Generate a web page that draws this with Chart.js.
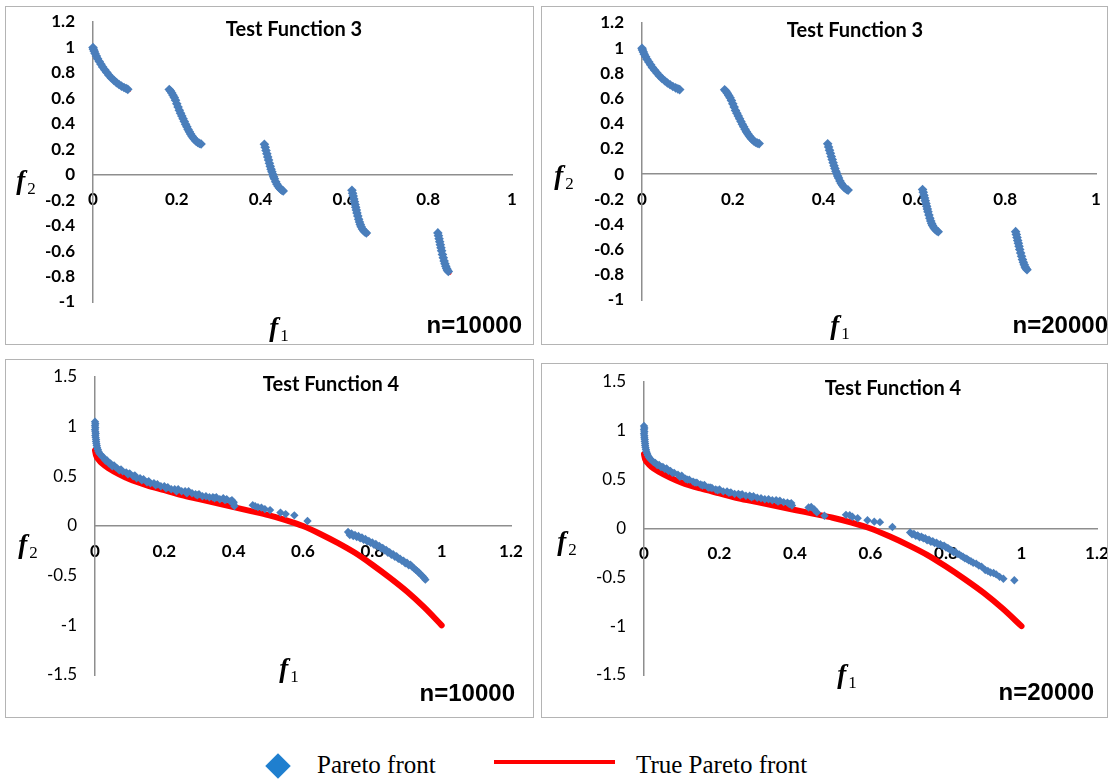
<!DOCTYPE html>
<html>
<head>
<meta charset="utf-8">
<script src="https://cdn.jsdelivr.net/npm/chart.js@4.4.1/dist/chart.umd.min.js"></script>
<style>
    body { margin: 0; background: #fff; }
    #page { position: relative; width: 1110px; height: 780px; overflow: hidden; background: #fff; }
    .panel { position: absolute; box-sizing: border-box; border: 1px solid #b4b4b4; }
    .panel canvas { position: absolute; left: 0; top: 0; }
    #p1 { left: 5px; top: 6px; width: 529px; height: 339px; }
    #p2 { left: 541px; top: 6px; width: 567px; height: 339px; }
    #p3 { left: 5px; top: 359px; width: 529px; height: 359px; }
    #p4 { left: 541px; top: 363px; width: 567px; height: 355px; }
    .txt { position: absolute; white-space: nowrap; transform: translate(-50%, -50%); color: #000; }
    .title { font: bold 20px Lato, sans-serif; }
    .fx { font: italic bold 27px "Liberation Serif", serif; }
    .fx sub { font-style: normal; font-weight: normal; font-size: 17px; vertical-align: -5px; margin-left: 2px; }
    .nlab { font: bold 24px "Liberation Sans", Arial, sans-serif; transform: translate(-100%, -50%); }
    .leg { font: 25px "Liberation Serif", "Times New Roman", serif; transform: translate(0, -50%); }
    #legDiamond { position: absolute; left: 269px; top: 757px; width: 18px; height: 18px; background: #1f7fcf; transform: rotate(45deg); }
    #legLine { position: absolute; left: 494px; top: 760px; width: 121px; height: 4px; background: #ff0000; }
</style>
</head>
<body>
<div id="page">
    <div class="panel" id="p1"><canvas id="c1" width="527" height="337"></canvas></div>
    <div class="panel" id="p2"><canvas id="c2" width="565" height="337"></canvas></div>
    <div class="panel" id="p3"><canvas id="c3" width="527" height="357"></canvas></div>
    <div class="panel" id="p4"><canvas id="c4" width="565" height="353"></canvas></div>

    <div class="txt title" style="left:294px; top:28px;">Test Function 3</div>
    <div class="txt title" style="left:855px; top:29px;">Test Function 3</div>
    <div class="txt title" style="left:331px; top:383px;">Test Function 4</div>
    <div class="txt title" style="left:893px; top:387px;">Test Function 4</div>

    <div class="txt fx" style="left:26px; top:182px;">f<sub>2</sub></div>
    <div class="txt fx" style="left:279px; top:329px;">f<sub>1</sub></div>
    <div class="txt fx" style="left:564px; top:177px;">f<sub>2</sub></div>
    <div class="txt fx" style="left:840px; top:327px;">f<sub>1</sub></div>
    <div class="txt fx" style="left:28px; top:546px;">f<sub>2</sub></div>
    <div class="txt fx" style="left:289px; top:670px;">f<sub>1</sub></div>
    <div class="txt fx" style="left:567px; top:543px;">f<sub>2</sub></div>
    <div class="txt fx" style="left:847px; top:676px;">f<sub>1</sub></div>

    <div class="txt nlab" style="left:522px; top:325px;">n=10000</div>
    <div class="txt nlab" style="left:1108px; top:325px;">n=20000</div>
    <div class="txt nlab" style="left:515px; top:693px;">n=10000</div>
    <div class="txt nlab" style="left:1094px; top:692px;">n=20000</div>

    <div id="legDiamond"></div>
    <div class="txt leg" style="left:317px; top:765px;">Pareto front</div>
    <div id="legLine"></div>
    <div class="txt leg" style="left:636px; top:765px;">True Pareto front</div>
</div>

<script>
// Test Function 3 - obtained front (same shape in both runs)
const tf3Front = [
    [0, 1.0], [0.001, 0.985], [0.003, 0.97], [0.005, 0.952], [0.008, 0.932], [0.011, 0.912], [0.015, 0.89],
    [0.019, 0.868], [0.023, 0.847], [0.028, 0.824], [0.033, 0.803], [0.038, 0.781], [0.044, 0.76], [0.05, 0.741],
    [0.056, 0.724], [0.062, 0.709], [0.068, 0.696], [0.074, 0.685], [0.079, 0.677], [0.083, 0.671],
    [0.182, 0.67], [0.185, 0.657], [0.188, 0.642], [0.191, 0.625], [0.194, 0.606], [0.197, 0.585], [0.2, 0.558],
    [0.203, 0.532], [0.206, 0.506], [0.209, 0.484], [0.212, 0.462], [0.215, 0.44], [0.218, 0.418], [0.221, 0.396],
    [0.224, 0.376], [0.227, 0.356], [0.23, 0.337], [0.233, 0.32], [0.236, 0.304], [0.239, 0.29], [0.242, 0.278],
    [0.246, 0.264], [0.25, 0.253], [0.254, 0.246], [0.258, 0.242],
    [0.409, 0.24], [0.411, 0.215], [0.413, 0.19], [0.415, 0.165], [0.417, 0.14], [0.419, 0.115], [0.421, 0.09],
    [0.423, 0.066], [0.425, 0.044], [0.427, 0.023], [0.429, 0.004], [0.431, -0.015], [0.433, -0.032], [0.436, -0.055],
    [0.439, -0.074], [0.442, -0.09], [0.445, -0.104], [0.448, -0.114], [0.451, -0.122], [0.454, -0.127],
    [0.618, -0.122], [0.6195, -0.145], [0.621, -0.168], [0.6225, -0.19], [0.624, -0.212], [0.6255, -0.234],
    [0.627, -0.256], [0.6285, -0.278], [0.63, -0.3], [0.632, -0.325], [0.634, -0.35], [0.636, -0.372],
    [0.638, -0.392], [0.64, -0.408], [0.643, -0.426], [0.646, -0.44], [0.649, -0.45], [0.6525, -0.458],
    [0.823, -0.457], [0.8245, -0.48], [0.826, -0.503], [0.8275, -0.527], [0.829, -0.55], [0.8305, -0.574],
    [0.832, -0.598], [0.834, -0.626], [0.836, -0.653], [0.838, -0.678], [0.84, -0.7], [0.842, -0.72],
    [0.844, -0.737], [0.846, -0.75], [0.848, -0.76]
];
// bits of the true front peeking out at segment ends (n=10000 panel)
const tf3TrueEnds10k = [[0.085, 0.668], [0.654, -0.461], [0.85, -0.768]];

// Test Function 4
const tf4Front10k = [
    [0, 1.05], [0.001, 1.03], [0, 1.01], [0.001, 0.99], [0, 0.97], [0.001, 0.95], [0.002, 0.93], [0.001, 0.91],
    [0.002, 0.89], [0.003, 0.87], [0.003, 0.85], [0.004, 0.83], [0.005, 0.81], [0.006, 0.79], [0.008, 0.77],
    [0.01, 0.75], [0.013, 0.73], [0.016, 0.72], [0.02, 0.7],
    [0.025, 0.69], [0.03, 0.66], [0.035, 0.66], [0.04, 0.63], [0.045, 0.63], [0.05, 0.6], [0.055, 0.61],
    [0.06, 0.59], [0.065, 0.58], [0.07, 0.56], [0.075, 0.57], [0.08, 0.55], [0.09, 0.54], [0.095, 0.52],
    [0.1, 0.53], [0.11, 0.5], [0.115, 0.51], [0.12, 0.48], [0.13, 0.48], [0.135, 0.46], [0.14, 0.47],
    [0.15, 0.44], [0.155, 0.45], [0.16, 0.43], [0.17, 0.43], [0.175, 0.41], [0.18, 0.42], [0.19, 0.4],
    [0.2, 0.4], [0.205, 0.38], [0.21, 0.39], [0.22, 0.37], [0.23, 0.37], [0.235, 0.35], [0.24, 0.37],
    [0.25, 0.35], [0.26, 0.35], [0.265, 0.33], [0.27, 0.35], [0.28, 0.33], [0.29, 0.32], [0.295, 0.31],
    [0.3, 0.32], [0.31, 0.3], [0.32, 0.3], [0.33, 0.29], [0.34, 0.29], [0.345, 0.28], [0.35, 0.29],
    [0.36, 0.27], [0.37, 0.28], [0.375, 0.26], [0.38, 0.27], [0.39, 0.25], [0.395, 0.26], [0.4, 0.24],
    [0.4, 0.22], [0.402, 0.2],
    [0.455, 0.21], [0.462, 0.2], [0.47, 0.19], [0.48, 0.185], [0.49, 0.17], [0.505, 0.16], [0.535, 0.135],
    [0.55, 0.12], [0.575, 0.107], [0.613, 0.05],
    [0.73, -0.06], [0.735, -0.09], [0.74, -0.075], [0.745, -0.1], [0.75, -0.09], [0.755, -0.11], [0.76, -0.1],
    [0.765, -0.125], [0.77, -0.115], [0.775, -0.14], [0.78, -0.13], [0.785, -0.155], [0.79, -0.15],
    [0.795, -0.17], [0.8, -0.165], [0.805, -0.19], [0.81, -0.18], [0.815, -0.205], [0.82, -0.2],
    [0.825, -0.225], [0.83, -0.22], [0.835, -0.245], [0.84, -0.24], [0.845, -0.27], [0.85, -0.265],
    [0.855, -0.29], [0.86, -0.285], [0.865, -0.31], [0.87, -0.305], [0.875, -0.33], [0.88, -0.33],
    [0.885, -0.35], [0.89, -0.35], [0.895, -0.375], [0.9, -0.37], [0.905, -0.395], [0.91, -0.39],
    [0.915, -0.41], [0.92, -0.425], [0.925, -0.44], [0.93, -0.455], [0.935, -0.47], [0.94, -0.49],
    [0.945, -0.505], [0.95, -0.525], [0.953, -0.54]
];
const tf4Front20k = [
    [0, 1.05], [0.001, 1.03], [0, 1.01], [0.001, 0.99], [0, 0.97], [0.001, 0.95], [0.001, 0.93], [0.002, 0.91],
    [0.002, 0.89], [0.003, 0.87], [0.003, 0.85], [0.004, 0.83], [0.005, 0.81], [0.006, 0.79], [0.008, 0.77],
    [0.01, 0.75], [0.013, 0.73], [0.016, 0.715], [0.02, 0.7],
    [0.025, 0.68], [0.03, 0.67], [0.035, 0.65], [0.04, 0.65], [0.045, 0.63], [0.05, 0.63], [0.055, 0.61],
    [0.06, 0.615], [0.065, 0.59], [0.07, 0.59], [0.075, 0.57], [0.08, 0.57], [0.09, 0.55], [0.095, 0.53],
    [0.1, 0.54], [0.11, 0.51], [0.115, 0.5], [0.12, 0.5], [0.13, 0.48], [0.135, 0.47], [0.14, 0.47],
    [0.15, 0.45], [0.155, 0.44], [0.16, 0.445], [0.17, 0.42], [0.175, 0.42], [0.18, 0.415], [0.19, 0.4],
    [0.195, 0.39], [0.2, 0.4], [0.21, 0.38], [0.22, 0.38], [0.225, 0.365], [0.23, 0.37], [0.24, 0.355],
    [0.25, 0.355], [0.255, 0.34], [0.26, 0.35], [0.27, 0.335], [0.28, 0.335], [0.285, 0.32], [0.29, 0.33],
    [0.3, 0.315], [0.31, 0.31], [0.32, 0.3], [0.33, 0.3], [0.34, 0.29], [0.35, 0.29], [0.355, 0.275],
    [0.36, 0.285], [0.37, 0.27], [0.38, 0.265], [0.385, 0.25], [0.39, 0.26], [0.392, 0.235],
    [0.436, 0.215], [0.443, 0.22], [0.451, 0.195], [0.458, 0.165], [0.478, 0.13], [0.535, 0.14],
    [0.545, 0.135], [0.552, 0.12], [0.566, 0.105], [0.592, 0.085], [0.61, 0.07], [0.625, 0.065], [0.658, 0.015],
    [0.705, -0.04], [0.71, -0.06], [0.715, -0.055], [0.72, -0.075], [0.725, -0.07], [0.73, -0.09],
    [0.735, -0.085], [0.74, -0.1], [0.745, -0.1], [0.75, -0.12], [0.755, -0.115], [0.76, -0.135],
    [0.765, -0.13], [0.77, -0.15], [0.775, -0.145], [0.78, -0.165], [0.785, -0.16], [0.79, -0.18],
    [0.795, -0.175], [0.8, -0.195], [0.805, -0.2], [0.81, -0.215], [0.815, -0.225], [0.82, -0.24],
    [0.825, -0.24], [0.83, -0.26], [0.835, -0.265], [0.84, -0.28], [0.845, -0.29], [0.85, -0.305],
    [0.855, -0.31], [0.86, -0.325], [0.866, -0.335], [0.872, -0.35], [0.88, -0.36], [0.887, -0.38],
    [0.894, -0.39], [0.904, -0.425], [0.911, -0.435], [0.918, -0.45], [0.926, -0.455], [0.933, -0.47],
    [0.942, -0.495], [0.952, -0.515], [0.981, -0.53]
];
const tf4TrueFront = [
    [0, 0.76], [0.003, 0.71], [0.01, 0.67], [0.02, 0.63], [0.04, 0.58], [0.07, 0.52], [0.1, 0.47],
    [0.15, 0.41], [0.2, 0.36], [0.25, 0.31], [0.3, 0.27], [0.35, 0.23], [0.4, 0.19], [0.45, 0.15],
    [0.5, 0.11], [0.55, 0.06], [0.6, 0.0], [0.65, -0.08], [0.7, -0.17], [0.75, -0.27], [0.8, -0.39],
    [0.85, -0.52], [0.9, -0.66], [0.95, -0.82], [1.0, -1.0]
];

// tick values
const tf3XTicks = [0, 0.2, 0.4, 0.6, 0.8, 1];
const tf3YTicks = [-1, -0.8, -0.6, -0.4, -0.2, 0, 0.2, 0.4, 0.6, 0.8, 1, 1.2];
const tf4XTicks = [0, 0.2, 0.4, 0.6, 0.8, 1, 1.2];
const tf4YTicks = [-1.5, -1, -0.5, 0, 0.5, 1, 1.5];

const BLUE = '#4a7ebb';
const RED = '#ff0000';
const AXIS = '#8e8e8e';

const fmt = v => String(+Number(v).toFixed(1));

function buildPanel(canvasId, p) {
    const datasets = [{
        label: 'Pareto front',
        data: p.front,
        pointStyle: 'rectRot',
        pointRadius: p.r,
        backgroundColor: BLUE,
        borderWidth: 0,
        clip: false
    }];
    if (p.trueLine) {
        datasets.push({
            label: 'True Pareto front',
            data: p.trueLine,
            showLine: true,
            borderColor: RED,
            borderWidth: 6,
            borderCapStyle: 'round',
            pointRadius: 0,
            cubicInterpolationMode: 'monotone',
            clip: false
        });
    }
    if (p.trueDots) {
        datasets.push({
            label: 'True Pareto front',
            data: p.trueDots,
            pointRadius: 2.5,
            backgroundColor: RED,
            borderWidth: 0,
            clip: false
        });
    }

    return new Chart(document.getElementById(canvasId), {
        type: 'scatter',
        data: { datasets },
        options: {
            responsive: false,
            animation: false,
            devicePixelRatio: 1,
            layout: { padding: p.pad },
            plugins: { legend: { display: false }, tooltip: { enabled: false } },
            scales: {
                x: {
                    type: 'linear',
                    min: 0,
                    max: p.xTicks[p.xTicks.length - 1],
                    position: { y: 0 },
                    afterBuildTicks: s => { s.ticks = p.xTicks.map(v => ({ value: v })); },
                    // labels may hang over the edges, don't shrink the plot for them
                    afterFit: s => { s.paddingLeft = 0; s.paddingRight = 0; },
                    grid: { display: false, drawTicks: false },
                    border: { color: AXIS, width: 1.5 },
                    ticks: {
                        padding: 15,
                        autoSkip: false,
                        maxRotation: 0,
                        color: '#000',
                        font: { family: 'Lato', weight: 'bold', size: 17 },
                        callback: fmt
                    }
                },
                y: {
                    type: 'linear',
                    min: p.yTicks[0],
                    max: p.yTicks[p.yTicks.length - 1],
                    position: 'left',
                    afterBuildTicks: s => { s.ticks = p.yTicks.map(v => ({ value: v })); },
                    afterFit: s => { s.width = 50; s.paddingTop = 0; s.paddingBottom = 0; },
                    grid: { display: false, drawTicks: false },
                    border: { color: AXIS, width: 1.5 },
                    ticks: {
                        padding: 18,
                        autoSkip: false,
                        color: '#000',
                        font: { family: 'Lato', weight: p.yBold ? 'bold' : 'normal', size: 17 },
                        callback: fmt
                    }
                }
            }
        }
    });
}

document.addEventListener('DOMContentLoaded', () => {
    buildPanel('c1', {
        front: tf3Front, trueDots: tf3TrueEnds10k, r: 4.8,
        xTicks: tf3XTicks, yTicks: tf3YTicks, yBold: true,
        pad: { left: 37, right: 21, top: 15, bottom: 42 }
    });
    buildPanel('c2', {
        front: tf3Front, r: 4.8,
        xTicks: tf3XTicks, yTicks: tf3YTicks, yBold: true,
        pad: { left: 50, right: 11, top: 16, bottom: 44 }
    });
    buildPanel('c3', {
        front: tf4Front10k, trueLine: tf4TrueFront, r: 4.2,
        xTicks: tf4XTicks, yTicks: tf4YTicks, yBold: false,
        pad: { left: 39, right: 22, top: 17, bottom: 42 }
    });
    buildPanel('c4', {
        front: tf4Front20k, trueLine: tf4TrueFront, r: 4.2,
        xTicks: tf4XTicks, yTicks: tf4YTicks, yBold: false,
        pad: { left: 52, right: 10, top: 18, bottom: 42 }
    });
});
</script>
</body>
</html>
